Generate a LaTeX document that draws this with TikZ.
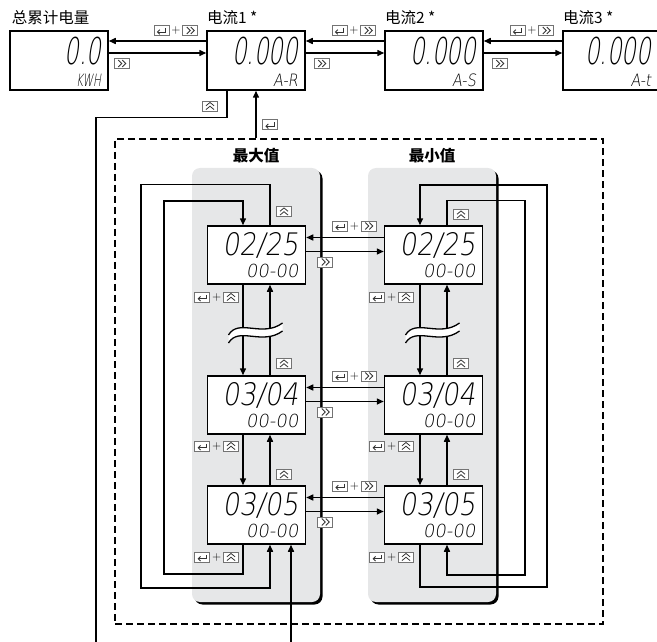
\documentclass[tikz,border=0pt]{standalone}
\usepackage{fontspec}
\usepackage{tikz}
\usetikzlibrary{arrows.meta, positioning, calc, shadows}

\newfontfamily\cjk{Noto Sans CJK SC}
\newfontfamily\lcd{DejaVu Sans ExtraLight}[FakeStretch=0.62, FakeSlant=0.15]
\newfontfamily\lcdw{DejaVu Sans ExtraLight}[FakeStretch=0.85, FakeSlant=0.15]
\newfontfamily\lcdn{DejaVu Sans ExtraLight}[FakeSlant=0.15]
\definecolor{pgray}{RGB}{230,231,232}

% display texts
\newcommand{\bigval}[1]{\rule{0pt}{31pt}{\lcd\fontsize{37}{22}\selectfont #1}}
\newcommand{\dateval}[1]{\rule{0pt}{24pt}{\lcdw\fontsize{31}{22}\selectfont #1}}
\newcommand{\subval}[1]{{\lcdw\fontsize{17}{22}\selectfont #1}}
\newcommand{\timeval}[1]{{\lcdn\fontsize{18}{22}\selectfont #1}}

% key icons
\tikzset{
  kfr/.style={-, draw=black!55, fill=white, line width=0.6pt},
  ksym/.style={-, draw=black!80, line width=0.8pt, line join=miter}
}
\newcommand{\kEnt}{\tikz[x=1pt,y=1pt,baseline=-3.5pt]{\draw[kfr] (0,-5) rectangle (15,5);
  \draw[ksym] (11.5,2.5) -- (11.5,-1.5) -- (3.5,-1.5); \draw[ksym] (5.8,0.8) -- (3.5,-1.5) -- (5.8,-3.8);}}
\newcommand{\kSh}{\tikz[x=1pt,y=1pt,baseline=-3.5pt]{\draw[kfr] (0,-5) rectangle (15,5);
  \draw[ksym] (4,3.5) -- (7.5,0) -- (4,-3.5) (8,3.5) -- (11.5,0) -- (8,-3.5);}}
\newcommand{\kUp}{\tikz[x=1pt,y=1pt,baseline=-3.5pt]{\draw[kfr] (0,-5) rectangle (15,5);
  \draw[ksym] (3.5,0.5) -- (7.5,3.8) -- (11.5,0.5) (3.5,-3.3) -- (7.5,0) -- (11.5,-3.3);}}
\newcommand{\kplus}{\,{\sffamily +}\,}

\begin{document}
\begin{tikzpicture}[
    x=1pt, y=-1pt,
    line width=1.5pt,
    >={Triangle[length=7pt,width=6pt]},
    arr/.style={->},
    disp/.style={draw, rectangle, fill=white, minimum width=98pt, minimum height=59pt, text width=84pt, align=right, inner sep=0pt,
      font=\fontsize{10}{22}\selectfont},
    cell/.style={disp, minimum height=58pt},
    ttl/.style={font=\cjk\fontsize{15.5}{15.5}\selectfont, inner sep=0pt},
    hd/.style={font=\cjk\bfseries\fontsize{15.5}{15.5}\selectfont, inner sep=0pt},
    pnl/.style={fill=pgray, rounded corners=8pt, minimum width=128pt, minimum height=434pt, inner sep=0pt,
      general shadow={fill=black, shadow xshift=2.5pt, shadow yshift=-2.5pt}},
    grpbox/.style={draw, dash pattern=on 7pt off 4pt, minimum width=488pt, minimum height=485pt, inner sep=0pt},
    kl/.style={inner sep=0pt, font=\fontsize{12}{12}\selectfont},
    brk/.pic={
      \fill[white] (-28,5) .. controls (-18,-12) and (6,8) .. (26,-7) -- (26,1) .. controls (6,16) and (-18,-4) .. (-28,13) -- cycle;
      \draw[line width=1.3pt] (-28,5) .. controls (-18,-12) and (6,8) .. (26,-7);
      \draw[line width=1.3pt] (-28,13) .. controls (-18,-4) and (6,16) .. (26,1);
    }
]
\useasboundingbox (0,0) rectangle (657,642);
\clip (0,0) rectangle (657,642);

% group frame and the two columns
\node (grp) [grpbox] at (359,381.5) {};
\node (pnlL) [pnl] at (256,385) {};
\node (pnlR) [pnl] at (432,385) {};
\node (hL) [hd, above=4pt of pnlL] {最大值};
\node (hR) [hd, above=4pt of pnlR] {最小值};

% top row
\node (d0) [disp] at (59,60.5) {\bigval{0.0}\\\subval{\lcd KWH}};
\node (d1) [disp, right=97.5pt of d0] {\bigval{0.000}\\\subval{A-R}};
\node (d2) [disp, right=78.5pt of d1] {\bigval{0.000}\\\subval{A-S}};
\node (d3) [disp, right=78.5pt of d2, text width=78pt] {\bigval{0.000}\\\subval{A-t}};
\node (t0) [ttl, above right=5pt and 2pt of d0.north west] {总累计电量};
\node (t1) [ttl, above right=5pt and 0pt of d1.north west] {电流1 *};
\node (t2) [ttl, above right=5pt and 0pt of d2.north west] {电流2 *};
\node (t3) [ttl, above right=5pt and 0pt of d3.north west] {电流3 *};

% max / min cells
\node (m1) [cell] at (256.5,255) {\dateval{02/25}\\\timeval{00-00}};
\node (m2) [cell, below=90.5pt of m1] {\dateval{03/04}\\\timeval{00-00}};
\node (m3) [cell, below=50.5pt of m2] {\dateval{03/05}\\\timeval{00-00}};
\node (n1) [cell, right=77.5pt of m1] {\dateval{02/25}\\\timeval{00-00}};
\node (n2) [cell, right=77.5pt of m2] {\dateval{03/04}\\\timeval{00-00}};
\node (n3) [cell, right=77.5pt of m3] {\dateval{03/05}\\\timeval{00-00}};

\coordinate (bl) at (96,642);
\coordinate (br) at (291,642);

% top row arrows
\draw [arr] ([yshift=19.5pt]d1.west) -- node (k10) [kl, pos=0, anchor=south east, xshift=-8pt, yshift=5pt] {\kEnt\kplus\kSh} ([yshift=19.5pt]d0.east);
\draw [arr] ([yshift=7.5pt]d0.east) -- node (k01) [kl, pos=0, anchor=north west, xshift=5pt, yshift=-5pt] {\kSh} ([yshift=7.5pt]d1.west);
\draw [arr] ([yshift=19.5pt]d2.west) -- node (k21) [kl, pos=0, anchor=south east, xshift=-8pt, yshift=5pt] {\kEnt\kplus\kSh} ([yshift=19.5pt]d1.east);
\draw [arr] ([yshift=7.5pt]d1.east) -- node (k12) [kl, pos=0, anchor=north west, xshift=8pt, yshift=-5pt] {\kSh} ([yshift=7.5pt]d2.west);
\draw [arr] ([yshift=19.5pt]d3.west) -- node (k32) [kl, pos=0, anchor=south east, xshift=-8pt, yshift=5pt] {\kEnt\kplus\kSh} ([yshift=19.5pt]d2.east);
\draw [arr] ([yshift=7.5pt]d2.east) -- node (k23) [kl, pos=0, anchor=north west, xshift=8pt, yshift=-5pt] {\kSh} ([yshift=7.5pt]d3.west);

% into and out of the group
\draw ([xshift=-29pt]d1.south) -- node (kd1) [kl, pos=0, anchor=north east, xshift=-9pt, yshift=-10pt] {\kUp} ++(0,27) -| (bl);
\draw [arr] (grp.north -| d1.south) -- node (kg) [kl, pos=0, anchor=south west, xshift=6pt, yshift=8pt] {\kEnt} (d1.south);
\draw [arr] (br) -- (br |- m3.south);

% max <-> min
\draw [arr] ([yshift=17.5pt]n1.west) -- node (kn1) [kl, pos=0, anchor=south east, xshift=-7pt, yshift=6pt] {\kEnt\kplus\kSh} ([yshift=17.5pt]m1.east);
\draw [arr] ([yshift=3.5pt]m1.east) -- node (km1) [kl, pos=0, anchor=north west, xshift=11pt, yshift=-5pt] {\kSh} ([yshift=3.5pt]n1.west);
\draw [arr] ([yshift=17.5pt]n2.west) -- node (kn2) [kl, pos=0, anchor=south east, xshift=-7pt, yshift=6pt] {\kEnt\kplus\kSh} ([yshift=17.5pt]m2.east);
\draw [arr] ([yshift=3.5pt]m2.east) -- node (km2) [kl, pos=0, anchor=north west, xshift=11pt, yshift=-5pt] {\kSh} ([yshift=3.5pt]n2.west);
\draw [arr] ([yshift=17.5pt]n3.west) -- node (kn3) [kl, pos=0, anchor=south east, xshift=-7pt, yshift=6pt] {\kEnt\kplus\kSh} ([yshift=17.5pt]m3.east);
\draw [arr] ([yshift=3.5pt]m3.east) -- node (km3) [kl, pos=0, anchor=north west, xshift=11pt, yshift=-5pt] {\kSh} ([yshift=3.5pt]n3.west);

% max column
\draw [arr] ([xshift=-13.5pt]m1.south) -- node (ka1) [kl, pos=0, anchor=north east, xshift=-4pt, yshift=-7pt] {\kEnt\kplus\kUp} ([xshift=-13.5pt]m2.north);
\draw [arr] ([xshift=13.5pt]m2.north) -- node (kb1) [kl, pos=0, anchor=south west, xshift=6pt, yshift=6pt] {\kUp} ([xshift=13.5pt]m1.south);
\draw [arr] ([xshift=-13.5pt]m2.south) -- node (ka2) [kl, pos=0, anchor=north east, xshift=-4pt, yshift=-6pt] {\kEnt\kplus\kUp} ([xshift=-13.5pt]m3.north);
\draw [arr] ([xshift=13.5pt]m3.north) -- node (kb2) [kl, pos=0, anchor=south west, xshift=6pt, yshift=5pt] {\kUp} ([xshift=13.5pt]m2.south);
\draw [arr] ([xshift=13.5pt]m1.north) -- node (kb0) [kl, pos=0, anchor=south west, xshift=6pt, yshift=8pt] {\kUp} ++(0,-41) -| (141,588) -| ([xshift=13.5pt]m3.south);
\draw [arr] ([xshift=-13.5pt]m3.south) -- node (ka3) [kl, pos=0, anchor=north east, xshift=-4pt, yshift=-7pt] {\kEnt\kplus\kUp} ++(0,29) -| (164,201) -| ([xshift=-13.5pt]m1.north);

% min column
\draw [arr] ([xshift=-13.5pt]n1.south) -- node (kc1) [kl, pos=0, anchor=north east, xshift=-6pt, yshift=-7pt] {\kEnt\kplus\kUp} ([xshift=-13.5pt]n2.north);
\draw [arr] ([xshift=13.5pt]n2.north) -- node (ke1) [kl, pos=0, anchor=south west, xshift=6pt, yshift=6pt] {\kUp} ([xshift=13.5pt]n1.south);
\draw [arr] ([xshift=-13.5pt]n2.south) -- node (kc2) [kl, pos=0, anchor=north east, xshift=-6pt, yshift=-6pt] {\kEnt\kplus\kUp} ([xshift=-13.5pt]n3.north);
\draw [arr] ([xshift=13.5pt]n3.north) -- node (ke2) [kl, pos=0, anchor=south west, xshift=6pt, yshift=5pt] {\kUp} ([xshift=13.5pt]n2.south);
\draw [arr] ([xshift=13.5pt]n1.north) -- node (ke0) [kl, pos=0, anchor=south west, xshift=6pt, yshift=5pt] {\kUp} ++(0,-25) -| (525,575) -| ([xshift=13.5pt]n3.south);
\draw [arr] ([xshift=-13.5pt]n3.south) -- node (kc3) [kl, pos=0, anchor=north east, xshift=-6pt, yshift=-7pt] {\kEnt\kplus\kUp} ++(0,42) -| (547,185) -| ([xshift=-13.5pt]n1.north);

% breaks
\pic at ($(m1.south)!0.5!(m2.north)$) {brk};
\pic at ($(n1.south)!0.5!(n2.north)$) {brk};
\end{tikzpicture}
\end{document}
